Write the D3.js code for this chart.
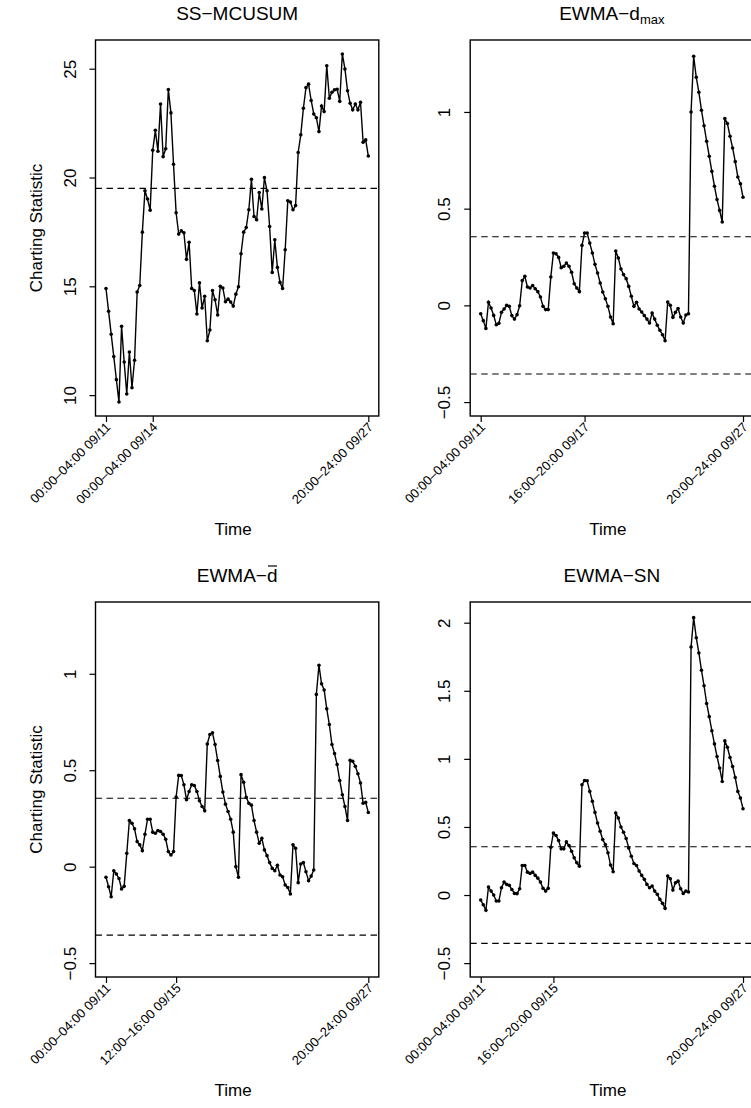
<!DOCTYPE html>
<html>
<head>
<meta charset="utf-8">
<script src="https://cdn.jsdelivr.net/npm/d3@7/dist/d3.min.js"></script>
<style>
body{margin:0;background:#fff;}
svg{display:block;font-family:"Liberation Sans",Arial,Helvetica,sans-serif;}
</style>
</head>
<body>
<svg id="chart" width="751" height="1108"></svg>
<script>
/**
 * four control charts, one point per 4 hour window (09/11 00:00 -> 09/27 24:00)
 */

var nObs = 102;

var mcusumValues = [14.9,13.85,12.8,11.77,10.71,9.68,13.16,11.52,10.05,11.98,
	10.34,11.6,14.74,15.04,17.49,19.39,19.01,18.5,21.25,22.17,
	21.21,23.38,20.96,21.32,24.04,22.97,20.61,18.38,17.4,17.55,
	17.46,16.24,17.02,14.9,14.81,13.73,15.16,14.0,14.54,12.5,
	12.99,14.81,14.38,13.68,15.0,14.92,14.29,14.41,14.28,14.09,
	14.64,14.98,16.5,17.49,17.7,18.52,19.92,18.21,18.06,19.31,
	18.55,20.0,19.39,17.75,15.64,17.14,15.87,15.18,14.9,16.68,
	18.93,18.87,18.52,18.71,21.15,21.96,23.18,24.13,24.29,23.54,
	22.92,22.75,22.11,23.29,23.03,25.14,23.64,23.92,24.03,24.06,
	23.5,25.68,24.99,23.99,23.41,23.11,23.38,23.11,23.46,21.62,
	21.73,20.99];

var dmaxValues = [-0.043,-0.079,-0.119,0.016,-0.014,-0.052,-0.1,-0.093,-0.036,-0.019,
	0.0,-0.005,-0.053,-0.071,-0.048,-0.002,0.128,0.15,0.095,0.09,
	0.103,0.086,0.071,0.043,-0.005,-0.022,-0.022,0.147,0.271,0.267,
	0.248,0.195,0.202,0.219,0.202,0.171,0.112,0.09,0.071,0.31,
	0.374,0.374,0.322,0.271,0.212,0.167,0.116,0.069,0.034,-0.005,
	-0.06,-0.095,0.281,0.245,0.188,0.159,0.138,0.098,0.047,-0.005,
	0.016,-0.019,-0.034,-0.053,-0.071,-0.091,-0.04,-0.071,-0.103,-0.129,
	-0.152,-0.183,0.017,0.0,-0.062,-0.036,-0.016,-0.06,-0.091,-0.05,
	-0.043,1.0,1.288,1.179,1.102,1.009,0.929,0.848,0.771,0.693,
	0.616,0.547,0.491,0.431,0.966,0.94,0.874,0.814,0.743,0.664,
	0.629,0.559];

var dbarValues = [-0.055,-0.104,-0.156,-0.021,-0.038,-0.061,-0.116,-0.102,0.069,0.239,
	0.225,0.196,0.13,0.113,0.083,0.168,0.246,0.246,0.179,0.173,
	0.187,0.182,0.168,0.142,0.078,0.061,0.078,0.361,0.473,0.472,
	0.425,0.347,0.39,0.425,0.421,0.39,0.342,0.312,0.29,0.636,
	0.685,0.694,0.633,0.55,0.468,0.387,0.324,0.286,0.246,0.179,
	0.0,-0.055,0.477,0.437,0.359,0.329,0.319,0.239,0.179,0.121,
	0.147,0.087,0.057,0.021,-0.009,-0.021,0.007,-0.043,-0.052,-0.095,
	-0.108,-0.142,0.113,0.095,-0.083,0.014,0.021,-0.026,-0.073,-0.049,
	-0.017,0.893,1.044,0.948,0.916,0.818,0.737,0.633,0.586,0.529,
	0.447,0.373,0.312,0.239,0.551,0.546,0.52,0.482,0.434,0.329,
	0.333,0.281];

var snValues = [-0.037,-0.071,-0.112,0.059,0.029,0.0,-0.044,-0.044,0.054,0.095,
	0.078,0.071,0.041,0.012,0.01,0.046,0.217,0.217,0.168,0.159,
	0.168,0.144,0.124,0.095,0.049,0.029,0.049,0.351,0.456,0.437,
	0.4,0.339,0.339,0.39,0.363,0.322,0.273,0.237,0.212,0.81,
	0.841,0.839,0.761,0.688,0.607,0.529,0.468,0.407,0.371,0.31,
	0.22,0.171,0.602,0.566,0.5,0.461,0.415,0.346,0.285,0.232,
	0.217,0.176,0.144,0.115,0.078,0.054,0.066,0.029,0.005,-0.032,
	-0.061,-0.098,0.139,0.12,0.037,0.09,0.102,0.046,0.012,0.029,
	0.022,1.822,2.037,1.89,1.778,1.651,1.537,1.407,1.31,1.207,
	1.11,1.017,0.932,0.834,1.132,1.085,1.01,0.944,0.863,0.761,
	0.712,0.634];

// control limits (dashed)
var mcusumLimits = [19.5];
var ewmaLimits = [-0.355, 0.355];

// y axis settings
var mcusumYTicks = [10, 15, 20, 25];
var ewmaYTicks = [-0.5, 0, 0.5, 1];
var ewmaYLim = [-0.5, 1.3];
var snYTicks = [-0.5, 0, 0.5, 1, 1.5, 2];
var snYLim = [-0.5, 2.05];

// x axis ticks (observation index) and labels
var mcusumXTicks = [1, 19, 102];
var mcusumXLabels = ["00:00\u201304:00 09/11", "00:00\u201304:00 09/14", "20:00\u201324:00 09/27"];
var dmaxXTicks = [1, 41, 102];
var dmaxXLabels = ["00:00\u201304:00 09/11", "16:00\u201320:00 09/17", "20:00\u201324:00 09/27"];
var dbarXTicks = [1, 28, 102];
var dbarXLabels = ["00:00\u201304:00 09/11", "12:00\u201316:00 09/15", "20:00\u201324:00 09/27"];
var snXTicks = [1, 29, 102];
var snXLabels = ["00:00\u201304:00 09/11", "16:00\u201320:00 09/15", "20:00\u201324:00 09/27"];

/** plot regions of the 2x2 layout */
var cols = [{left: 95.5, right: 378.8}, {left: 470.2, right: 753.5}];
var rows = [{top: 40, bottom: 416}, {top: 602, bottom: 977}];

var panels = [
	{title: 'SS\u2212MCUSUM', values: mcusumValues, ylim: d3.extent(mcusumValues), yTicks: mcusumYTicks,
		limits: mcusumLimits, xTicks: mcusumXTicks, xLabels: mcusumXLabels, col: 0, row: 0, ylab: true},
	{title: 'EWMA\u2212d', sub: 'max', values: dmaxValues, ylim: ewmaYLim, yTicks: ewmaYTicks,
		limits: ewmaLimits, xTicks: dmaxXTicks, xLabels: dmaxXLabels, col: 1, row: 0},
	{title: 'EWMA\u2212d', bar: true, values: dbarValues, ylim: ewmaYLim, yTicks: ewmaYTicks,
		limits: ewmaLimits, xTicks: dbarXTicks, xLabels: dbarXLabels, col: 0, row: 1, ylab: true},
	{title: 'EWMA\u2212SN', values: snValues, ylim: snYLim, yTicks: snYTicks,
		limits: ewmaLimits, xTicks: snXTicks, xLabels: snXLabels, col: 1, row: 1}
];

/** R style axis range: data range widened by 4% on each side */
function padRange(r){
	var d = (r[1] - r[0]) * 0.04;
	return [r[0] - d, r[1] + d];
}

/** format numbers with a real minus sign */
function fmtNum(v){
	return (v < 0 ? '\u2212' : '') + Math.abs(v);
}

var svg = d3.select('#chart');

panels.forEach(function(p){ drawPanel(svg, p); });

function drawPanel(svg, p){
	var left = cols[p.col].left, right = cols[p.col].right;
	var top = rows[p.row].top, bottom = rows[p.row].bottom;
	var g = svg.append('g');

	var x = d3.scaleLinear().domain(padRange([1, nObs])).range([left, right]);
	var y = d3.scaleLinear().domain(padRange(p.ylim)).range([bottom, top]);

	// control limits
	g.selectAll('line.limit')
	.data(p.limits)
	.enter()
	.append('line')
	.attr('class', 'limit')
	.attr('x1', left).attr('x2', right)
	.attr('y1', function(d){ return y(d); })
	.attr('y2', function(d){ return y(d); })
	.attr('stroke', '#000')
	.attr('stroke-width', 1.1)
	.attr('stroke-dasharray', '6.5,4.5');

	// series
	var line = d3.line()
		.x(function(d, i){ return x(i + 1); })
		.y(function(d){ return y(d); });

	g.append('path')
	.datum(p.values)
	.attr('d', line)
	.attr('fill', 'none')
	.attr('stroke', '#000')
	.attr('stroke-width', 1.4);

	g.selectAll('circle')
	.data(p.values)
	.enter()
	.append('circle')
	.attr('cx', function(d, i){ return x(i + 1); })
	.attr('cy', function(d){ return y(d); })
	.attr('r', 1.8)
	.attr('fill', '#000');

	// box
	g.append('rect')
	.attr('x', left).attr('y', top)
	.attr('width', right - left).attr('height', bottom - top)
	.attr('fill', 'none')
	.attr('stroke', '#000')
	.attr('stroke-width', 1.4);

	// y axis
	var yAxis = g.append('g')
		.attr('transform', 'translate(' + left + ',0)')
		.call(d3.axisLeft(y).tickValues(p.yTicks).tickSize(6).tickFormat(fmtNum));
	yAxis.select('.domain').remove();
	yAxis.selectAll('.tick line').attr('stroke-width', 1.2);
	yAxis.selectAll('.tick text')
	.attr('x', null).attr('dy', null)
	.attr('transform', 'translate(-20,0) rotate(-90)')
	.attr('text-anchor', 'middle')
	.attr('fill', '#000')
	.style('font-size', '17px')
	.style('font-family', null);

	// x axis
	var xAxis = g.append('g')
		.attr('transform', 'translate(0,' + bottom + ')')
		.call(d3.axisBottom(x).tickValues(p.xTicks).tickSize(6)
			.tickFormat(function(d, i){ return p.xLabels[i]; }));
	xAxis.select('.domain').remove();
	xAxis.selectAll('.tick line').attr('stroke-width', 1.2);
	xAxis.selectAll('.tick text')
	.attr('y', null).attr('dy', null)
	.attr('transform', 'translate(5,12) rotate(-45)')
	.attr('text-anchor', 'end')
	.attr('fill', '#000')
	.style('font-size', '13px')
	.style('font-family', null);

	// axis titles
	var midX = (left + right) / 2;
	g.append('text')
	.attr('x', midX - 4)
	.attr('y', bottom + 119)
	.attr('text-anchor', 'middle')
	.style('font-size', '17px')
	.text('Time');

	if(p.ylab){
		g.append('text')
		.attr('transform', 'translate(' + (left - 54) + ',' + ((top + bottom) / 2) + ') rotate(-90)')
		.attr('text-anchor', 'middle')
		.style('font-size', '17px')
		.text('Charting Statistic');
	}

	// main title
	var title = g.append('text')
		.attr('x', midX)
		.attr('y', top - 20)
		.attr('text-anchor', 'middle')
		.style('font-size', '19px');
	title.append('tspan').text(p.title);
	if(p.sub){
		title.append('tspan').attr('dy', 4).style('font-size', '13px').text(p.sub);
	}
	if(p.bar){
		// overline on the final d
		var node = title.node();
		var n = p.title.length;
		var sx = node.getStartPositionOfChar(n - 1).x;
		var w = node.getSubStringLength(n - 1, 1);
		g.append('line')
		.attr('x1', sx + 1).attr('x2', sx + w - 0.5)
		.attr('y1', top - 36).attr('y2', top - 36)
		.attr('stroke', '#000')
		.attr('stroke-width', 1.2);
	}
}
</script>
</body>
</html>
